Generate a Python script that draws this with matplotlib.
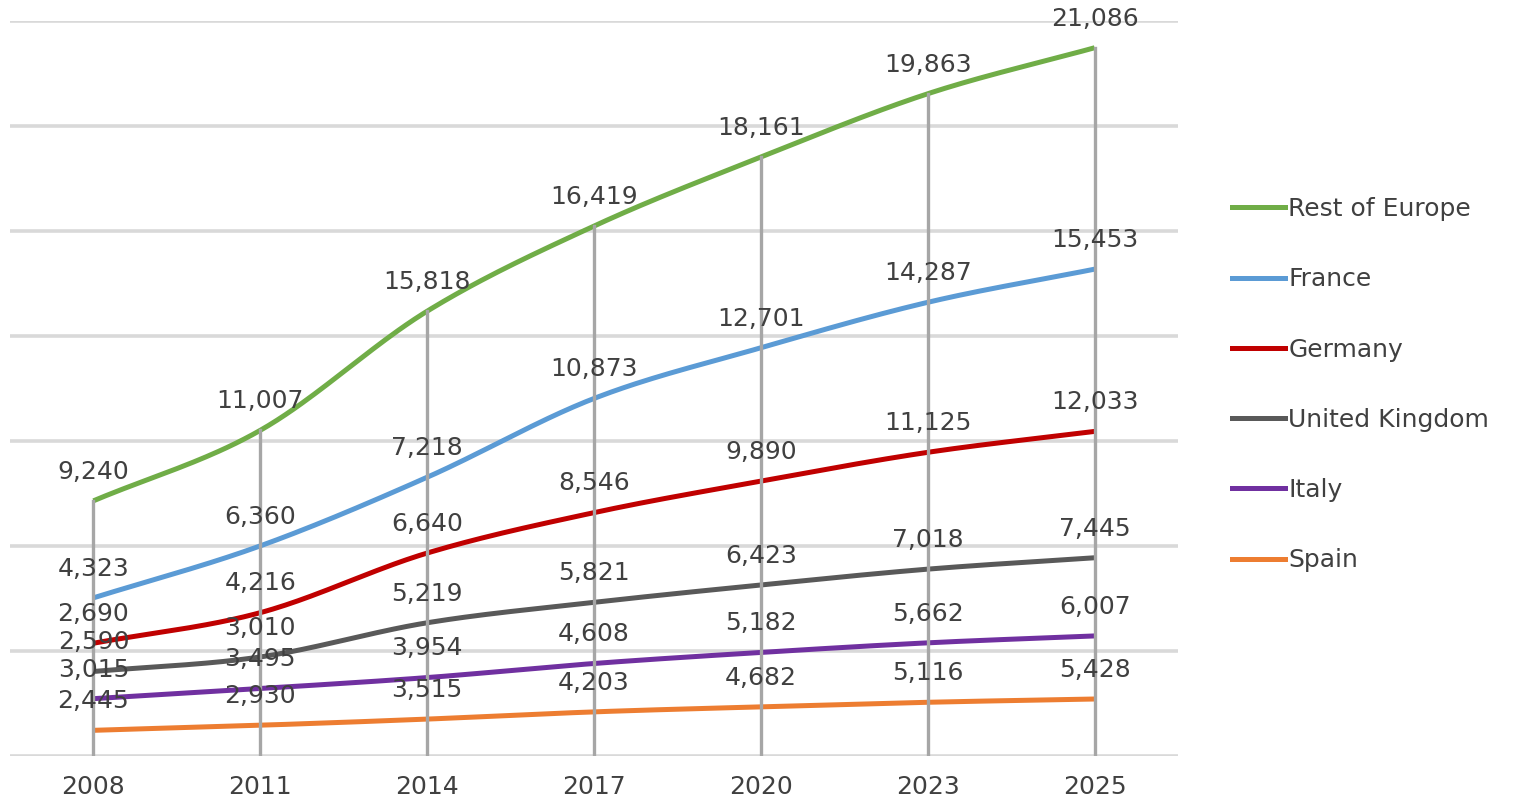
import numpy as np
import matplotlib
matplotlib.use("Agg")
import matplotlib.pyplot as plt
from matplotlib.lines import Line2D

years = ["2008", "2011", "2014", "2017", "2020", "2023", "2025"]
spain = [2445, 2930, 3515, 4203, 4682, 5116, 5428]
italy = [3015, 3495, 3954, 4608, 5182, 5662, 6007]
uk = [2590, 3010, 5219, 5821, 6423, 7018, 7445]
germany = [2690, 4216, 6640, 8546, 9890, 11125, 12033]
france = [4323, 6360, 7218, 10873, 12701, 14287, 15453]
rest = [9240, 11007, 15818, 16419, 18161, 19863, 21086]

series_names = ["Spain", "Italy", "United Kingdom", "Germany", "France", "Rest of Europe"]
series_vals = [spain, italy, uk, germany, france, rest]
colors = ["#ed7d31", "#7030a0", "#595959", "#c00000", "#5b9bd5", "#70ad47"]

FS = 18


def catmull(x, y, n=40):
    x = np.asarray(x, float)
    y = np.asarray(y, float)
    px = np.concatenate([[2 * x[0] - x[1]], x, [2 * x[-1] - x[-2]]])
    py = np.concatenate([[2 * y[0] - y[1]], y, [2 * y[-1] - y[-2]]])
    xs, ys = [], []
    for i in range(1, len(px) - 2):
        t = np.linspace(0, 1, n, endpoint=(i == len(px) - 3))
        for arr, out in ((px, xs), (py, ys)):
            p0, p1, p2, p3 = arr[i - 1], arr[i], arr[i + 1], arr[i + 2]
            out.append(0.5 * ((2 * p1) + (-p0 + p2) * t + (2 * p0 - 5 * p1 + 4 * p2 - p3) * t ** 2
                              + (-p0 + 3 * p1 - 3 * p2 + p3) * t ** 3))
    return np.concatenate(xs), np.concatenate(ys)


fig = plt.figure(figsize=(15.28, 8.02), dpi=100)
ax = fig.add_axes([10 / 1528, 1 - 756 / 802, 1168 / 1528, 735 / 802])
x = np.arange(len(years))
ax.set_xlim(-0.5, len(years) - 0.5)
ax.set_ylim(0, 70000)

for gy in range(0, 70001, 10000):
    ax.axhline(gy, color="#d9d9d9", lw=2.6, zorder=1)

cum = np.zeros(len(years))
tops = []
for name, vals, c in zip(series_names, series_vals, colors):
    cum = cum + np.array(vals)
    tops.append(cum.copy())
    sx, sy = catmull(x, cum)
    ax.plot(sx, sy, color=c, lw=3.6, solid_capstyle="butt", zorder=3)

for xi, top in zip(x, tops[-1]):
    ax.plot([xi, xi], [0, top], color="#a6a6a6", lw=2.4, zorder=4)

for vals, top in zip(series_vals, tops):
    for xi, v, t in zip(x, vals, top):
        ax.annotate(f"{v:,}", (xi, t), xytext=(0, 21), textcoords="offset points",
                    ha="center", va="center", fontsize=FS, color="#404040", zorder=5)

ax.set_xticks(x)
ax.set_xticklabels(years, fontsize=FS, color="#404040")
ax.tick_params(axis="x", length=0, pad=14)
ax.set_yticks([])
for s in ax.spines.values():
    s.set_visible(False)

handles = [Line2D([0], [0], color=c, lw=3.6) for c in colors[::-1]]
leg = fig.legend(handles, series_names[::-1], loc="upper left", bbox_to_anchor=(1222 / 1528, 1 - 187 / 802),
                 frameon=False, fontsize=FS, handlelength=2.1, handletextpad=0.15, labelspacing=1.85,
                 borderaxespad=0, borderpad=0.4)
for t in leg.get_texts():
    t.set_color("#404040")

fig.savefig("out.png", dpi=100)
